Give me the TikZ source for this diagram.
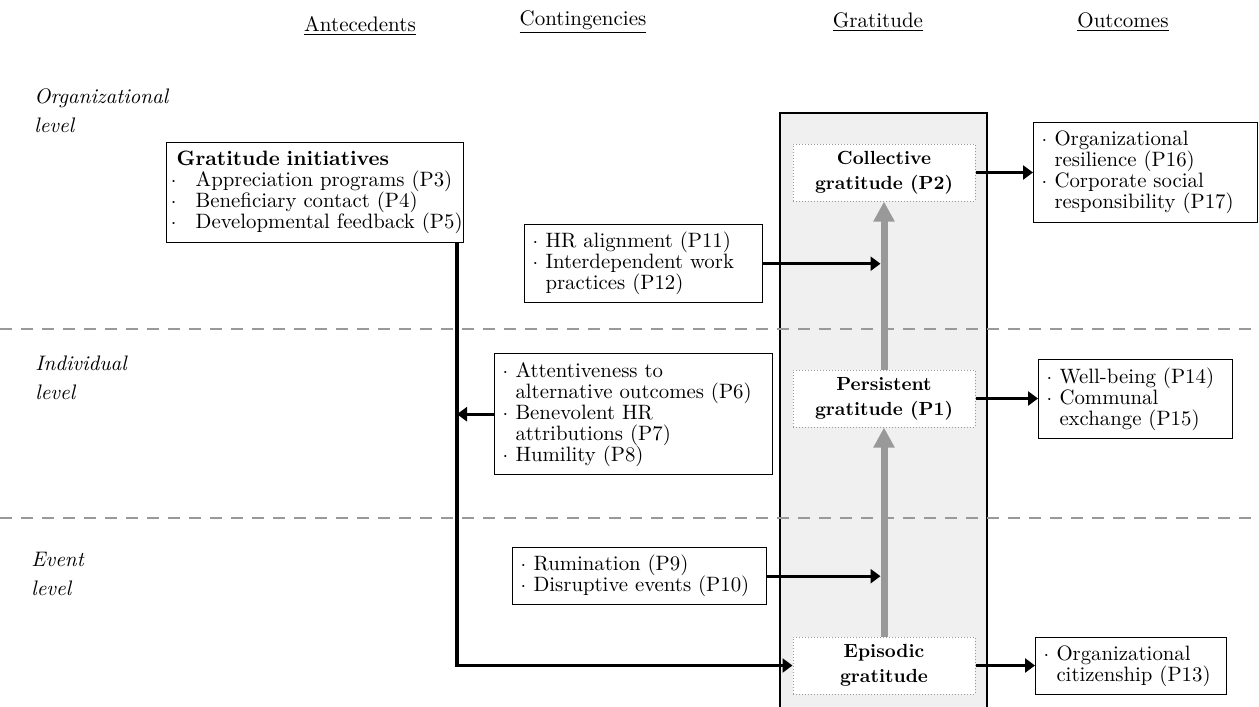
\documentclass[tikz,border=0pt]{standalone}
\usepackage{tikz}
\usetikzlibrary{arrows.meta,positioning,calc}

\newcommand{\dotitem}[1]{\mbox{\makebox[6.4pt][l]{$\cdot$}#1}}
\newcommand{\dotcont}[1]{\mbox{\hspace*{6.4pt}#1}}
\newcommand{\inititem}[1]{\mbox{\makebox[9.5pt][l]{\hspace*{-2.9pt}$\cdot$}#1}}

\tikzset{
	header/.style={font=\fontsize{10.5}{12}\selectfont},
	levellabel/.style={anchor=west,align=left,inner xsep=0pt,font=\fontsize{10.5}{14.5}\selectfont\itshape},
	factorbox/.style={draw,line width=0.7pt,fill=white,anchor=north west,align=left,inner xsep=4pt,inner ysep=0pt,font=\fontsize{10.4}{10.5}\selectfont},
	gratbox/.style={draw=black!40,densely dotted,line width=0.5pt,fill=white,align=center,minimum width=91pt,minimum height=28.5pt,inner sep=0pt,font=\fontsize{9.5}{12.5}\selectfont\bfseries},
	link/.style={line width=1.6pt,-{Triangle[length=5pt,width=7pt]}},
	lift/.style={line width=3.5pt,black!40,-{Triangle[length=10pt,width=10pt]}},
	levelline/.style={black!40,line width=1.3pt,dash pattern=on 6pt off 4.5pt}
}

\begin{document}
\begin{tikzpicture}[x=0.5pt,y=-0.5pt]
	\useasboundingbox (0,0) rectangle (1259,707);

	\begin{scope} % Gratitude column
		\fill[black!6] (780,113) rectangle (987,707);
		\draw[line width=0.7pt] (780,707) |- (987,113) -- (987,707);
	\end{scope}

	\begin{scope} % Level borders
		\draw[levelline] (0,329) -- (1259,329);
		\draw[levelline] (0,518) -- (1259,518);
	\end{scope}

	\begin{scope} % Column headers
		\node[header] (hant) at (360,26) {\underline{Antecedents}};
		\node[header] (hcon) at (583,22) {\underline{Contingencies}};
		\node[header] (hgrat) at (878,22) {\underline{Gratitude}};
		\node[header] (hout) at (1123,22) {\underline{Outcomes}};
	\end{scope}

	\begin{scope} % Levels
		\node[levellabel] (lorg) at (34,111) {Organizational\\level};
		\node[levellabel] (lind) at (35,378) {Individual\\level};
		\node[levellabel] (levt) at (31,574) {Event\\level};
	\end{scope}

	\begin{scope} % Antecedents and contingencies
		\node[factorbox,text width=138.5pt,inner xsep=5pt,minimum height=50pt] (init) at (166,142) {\textbf{Gratitude initiatives}\\\inititem{Appreciation programs (P3)}\\\inititem{Beneficiary contact (P4)}\\\inititem{Developmental feedback (P5)}};
		\node[factorbox,text width=111pt,minimum height=39pt] (hr) at (524,224) {\dotitem{HR alignment (P11)}\\\dotitem{Interdependent work}\\\dotcont{practices (P12)}};
		\node[factorbox,text width=131pt,minimum height=60.5pt] (att) at (494,353) {\dotitem{Attentiveness to}\\\dotcont{alternative outcomes (P6)}\\\dotitem{Benevolent HR}\\\dotcont{attributions (P7)}\\\dotitem{Humility (P8)}};
		\node[factorbox,text width=119pt,minimum height=28.5pt] (rum) at (512,547) {\dotitem{Rumination (P9)}\\\dotitem{Disruptive events (P10)}};
	\end{scope}

	\begin{scope} % Gratitude
		\node[gratbox] (coll) at (884,172.5) {Collective\\gratitude (P2)};
		\node[gratbox] (pers) at (884,398.5) {Persistent\\gratitude (P1)};
		\node[gratbox] (epi) at (884,665.5) {Episodic\\gratitude};
	\end{scope}

	\begin{scope} % Outcomes
		\node[factorbox,text width=104pt,minimum height=50pt] (res) at (1033,122) {\dotitem{Organizational}\\\dotcont{resilience (P16)}\\\dotitem{Corporate social}\\\dotcont{responsibility (P17)}};
		\node[factorbox,text width=89pt,minimum height=39.5pt] (well) at (1038,359) {\dotitem{Well-being (P14)}\\\dotitem{Communal}\\\dotcont{exchange (P15)}};
		\node[factorbox,text width=87.5pt,minimum height=28.5pt] (cit) at (1035,637) {\dotitem{Organizational}\\\dotcont{citizenship (P13)}};
	\end{scope}

	\begin{scope} % Links
		\coordinate (trunk) at (457,665.5);
		\draw[lift] (pers.north) -- (coll.south);
		\draw[lift] (epi.north) -- (pers.south);
		\draw[link] (init.south -| trunk) -- (trunk) -- (epi.west);
		\draw[link] (att.west) -- (att.west -| trunk);
		\draw[link,shorten >=1.75pt] (hr.east) -- (hr.east -| coll.south);
		\draw[link,shorten >=1.75pt] (rum.east) -- (rum.east -| epi.north);
		\draw[link] (coll.east) -- (coll.east -| res.west);
		\draw[link] (pers.east) -- (pers.east -| well.west);
		\draw[link] (epi.east) -- (epi.east -| cit.west);
	\end{scope}
\end{tikzpicture}
\end{document}
